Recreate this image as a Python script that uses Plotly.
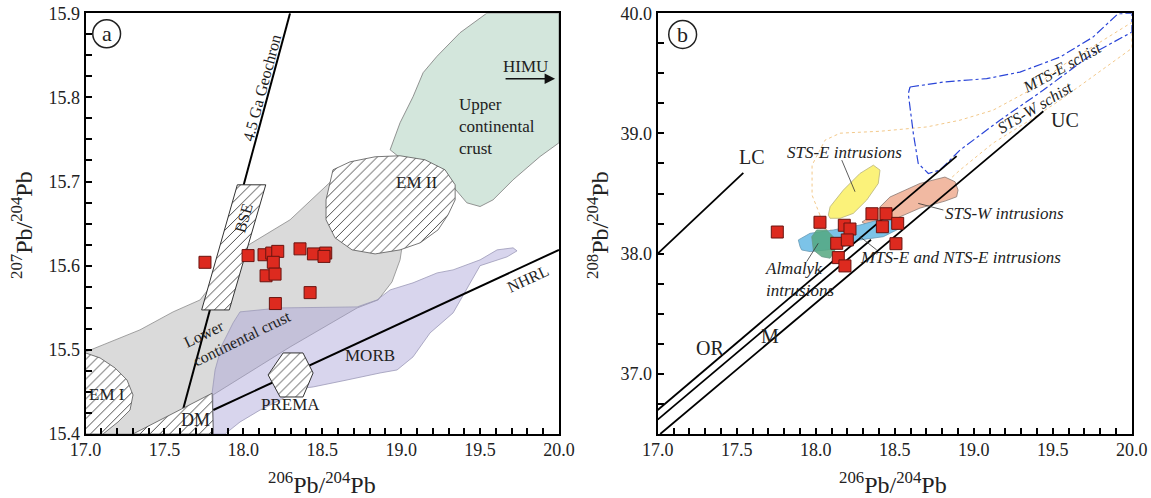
import plotly.graph_objects as go

SERIF = "Liberation Serif, Times New Roman, DejaVu Serif, serif"

# ---------------- Panel (a): 207Pb/204Pb vs 206Pb/204Pb ----------------
pb206_a = [17.757, 18.030, 18.131, 18.180, 18.218, 18.190, 18.144, 18.201,
           18.359, 18.444, 18.522, 18.511, 18.423, 18.203]
pb207_a = [15.604, 15.612, 15.613, 15.615, 15.617, 15.604, 15.588, 15.590,
           15.620, 15.614, 15.615, 15.611, 15.568, 15.555]

# ---------------- Panel (b): 208Pb/204Pb vs 206Pb/204Pb ----------------
pb206_b = [17.757, 18.027, 18.181, 18.217, 18.133, 18.200, 18.143, 18.185,
           18.356, 18.445, 18.422, 18.519, 18.508]
pb208_b = [38.180, 38.261, 38.236, 38.205, 38.086, 38.114, 37.967, 37.898,
           38.332, 38.332, 38.224, 38.252, 38.083]

# Reference reservoirs, panel (a)
lcc_x = [17.000, 17.345, 17.555, 17.726, 17.960, 18.296, 18.613, 18.803, 18.993, 19.012,
         18.993, 18.942, 18.854, 18.721, 18.296, 17.808, 17.808, 17.000]
lcc_y = [15.4975, 15.5237, 15.5451, 15.5593, 15.6164, 15.6545, 15.7103, 15.7258, 15.6782, 15.6307,
         15.6069, 15.5807, 15.5593, 15.5498, 15.5034, 15.4464, 15.400, 15.400]
ucc_x = [19.5425, 20.000, 20.000, 19.880, 19.709, 19.582, 19.500, 19.416, 19.329, 19.183,
         18.993, 18.930, 18.993, 19.075, 19.139, 19.226, 19.373]
ucc_y = [15.900, 15.900, 15.746, 15.7297, 15.702, 15.6782, 15.6703, 15.6747, 15.694, 15.7139,
         15.7282, 15.7377, 15.7698, 15.8007, 15.8293, 15.8486, 15.8768]
morb_x = [17.810, 17.802, 17.821, 17.865, 17.935, 17.979, 18.233, 18.721, 18.847, 18.930,
          19.075, 19.228, 19.329, 19.500, 19.608, 19.709, 19.734, 19.671, 19.500, 19.329,
          19.183, 19.075, 18.974, 18.866, 18.657, 18.505, 18.442, 18.359, 18.233, 18.106,
          17.979, 17.884]
morb_y = [15.400, 15.4487, 15.4761, 15.5058, 15.532, 15.5451, 15.5498, 15.551, 15.5593, 15.5712,
          15.5796, 15.5914, 15.595, 15.6069, 15.6188, 15.6212, 15.6176, 15.6105, 15.600, 15.5439,
          15.5201, 15.4916, 15.4761, 15.4725, 15.4642, 15.4583, 15.4559, 15.454, 15.4404, 15.4285,
          15.4143, 15.400]
em2_x = [18.568, 18.676, 18.835, 18.993, 19.151, 19.278, 19.342, 19.342, 19.297, 19.234,
         19.120, 18.993, 18.835, 18.689, 18.581, 18.524, 18.524, 18.549]
em2_y = [15.7139, 15.7234, 15.7294, 15.7306, 15.7258, 15.7139, 15.6961, 15.6782, 15.6604, 15.6426,
         15.6271, 15.6188, 15.614, 15.6188, 15.6331, 15.6545, 15.6782, 15.6985]
em1_x = [17.000, 17.092, 17.187, 17.263, 17.301, 17.282, 17.206, 17.111, 17.000]
em1_y = [15.4963, 15.4904, 15.4785, 15.4642, 15.4464, 15.4285, 15.4143, 15.400, 15.400]
dm_x = [17.301, 17.802, 17.810]
dm_y = [15.400, 15.4484, 15.400]
bse_x = [17.736, 17.911, 18.142, 17.962]
bse_y = [15.5474, 15.5474, 15.6961, 15.6961]
prema_x = [18.252, 18.378, 18.442, 18.378, 18.233, 18.157]
prema_y = [15.4963, 15.4963, 15.4725, 15.444, 15.444, 15.4702]
geochron_x = [17.620, 18.296]
geochron_y = [15.4306, 15.900]
nhrl_x = [17.810, 20.000]
nhrl_y = [15.4285, 15.6188]

# Reference fields and evolution curves, panel (b)
lc_x, lc_y = [17.000, 17.542], [38.000, 38.672]
or_x, or_y = [17.000, 18.892], [36.700, 38.811]
m_x, m_y = [17.000, 18.350], [36.620, 38.116]
uc_x, uc_y = [17.016, 19.441], [36.500, 39.184]
stse_x = [18.080, 18.091, 18.175, 18.280, 18.365, 18.407, 18.396, 18.323, 18.238, 18.154, 18.091]
stse_y = [38.321, 38.390, 38.529, 38.667, 38.736, 38.695, 38.584, 38.446, 38.335, 38.294, 38.294]
stsw_x = [18.293, 18.344, 18.470, 18.660, 18.818, 18.882, 18.901, 18.892, 18.818, 18.660,
          18.534, 18.439, 18.344]
stsw_y = [38.263, 38.307, 38.471, 38.584, 38.637, 38.598, 38.529, 38.473, 38.437, 38.379,
          38.307, 38.246, 38.222]
mtse_x = [17.901, 17.890, 17.964, 18.111, 18.280, 18.386, 18.470, 18.554, 18.534, 18.428,
          18.280, 18.175, 18.070, 17.964, 17.911]
mtse_y = [38.058, 38.114, 38.169, 38.197, 38.238, 38.280, 38.307, 38.266, 38.211, 38.141,
          38.114, 38.058, 38.031, 38.017, 38.031]
alm_x = [17.975, 18.006, 18.070, 18.111, 18.122, 18.091, 18.038, 17.985]
alm_y = [38.141, 38.197, 38.197, 38.141, 38.031, 37.962, 37.975, 38.031]
schE_x = [18.597, 18.806, 19.082, 19.293, 19.546, 19.755, 19.913, 20.000, 20.000, 19.755,
          19.439, 19.166, 18.913, 18.787, 18.713, 18.649, 18.618, 18.586]
schE_y = [39.386, 39.427, 39.456, 39.510, 39.635, 39.801, 39.995, 40.000, 39.842, 39.666,
          39.359, 39.110, 38.861, 38.695, 38.667, 38.750, 38.999, 39.331]
schW_x = [18.027, 17.977, 17.977, 18.059, 18.154, 18.407, 18.703, 18.913, 19.122, 19.356,
          19.546, 19.768, 20.000, 20.000, 19.768, 19.546, 19.356, 19.122, 18.913, 18.703,
          18.534, 18.344, 18.154, 18.027]
schW_y = [38.321, 38.487, 38.736, 38.944, 39.002, 39.018, 39.054, 39.110, 39.193, 39.359,
          39.552, 39.732, 39.923, 39.707, 39.483, 39.276, 39.110, 38.919, 38.695, 38.446,
          38.321, 38.213, 38.180, 38.213]

fig = go.Figure()


def field(x, y, xa, ya, fill=None, line_color=None, line_width=0.8, dash=None,
          hatch=False):
    xs = list(x) + [x[0]]
    ys = list(y) + [y[0]]
    kw = dict(x=xs, y=ys, mode="lines", xaxis=xa, yaxis=ya, hoverinfo="skip",
              showlegend=False,
              line=dict(color=line_color or "rgba(0,0,0,0)", width=line_width,
                        dash=dash))
    if fill or hatch:
        kw["fill"] = "toself"
        kw["fillcolor"] = fill or "white"
    if hatch:
        kw["fillpattern"] = dict(shape="/", bgcolor="white", fgcolor="#3c3c3c",
                                 size=7, solidity=0.13)
    fig.add_trace(go.Scatter(**kw))


def line(x, y, xa, ya, width=2.0, color="black"):
    fig.add_trace(go.Scatter(x=x, y=y, mode="lines", xaxis=xa, yaxis=ya,
                             hoverinfo="skip", showlegend=False,
                             line=dict(color=color, width=width)))


# ---- panel (a) fields ----
field(lcc_x, lcc_y, "x", "y", fill="#dadada", line_color="#8a8a8a")
field(ucc_x, ucc_y, "x", "y", fill="#d3e6dc", line_color="#7a7a7a")
field(morb_x, morb_y, "x", "y", fill="rgba(168,162,214,0.45)", line_color="#9c99b8")
line(geochron_x, geochron_y, "x", "y", width=2)
line(nhrl_x, nhrl_y, "x", "y", width=2)
field(em1_x, em1_y, "x", "y", hatch=True, line_color="#555", line_width=0.8)
field(dm_x, dm_y, "x", "y", hatch=True, line_color="#555", line_width=0.8)
field(em2_x, em2_y, "x", "y", hatch=True, line_color="#555", line_width=0.8)
field(bse_x, bse_y, "x", "y", hatch=True, line_color="#333", line_width=1)
field(prema_x, prema_y, "x", "y", hatch=True, line_color="#333", line_width=1)

# ---- panel (b) fields ----
field(schW_x, schW_y, "x2", "y2", line_color="#f2c88a", line_width=1, dash="dot")
field(schE_x, schE_y, "x2", "y2", line_color="#2a45d8", line_width=1.2, dash="dashdot")
field(stse_x, stse_y, "x2", "y2", fill="#fbf27a", line_color="#b8b27a")
field(stsw_x, stsw_y, "x2", "y2", fill="#f1b9a2", line_color="#8a7a74")
field(mtse_x, mtse_y, "x2", "y2", fill="#7cc3e8", line_color="#6a9ab5")
field(alm_x, alm_y, "x2", "y2", fill="rgba(84,168,128,0.85)", line_color="#6a9a88")
line(lc_x, lc_y, "x2", "y2", width=1.8)
line(or_x, or_y, "x2", "y2", width=1.8)
line(m_x, m_y, "x2", "y2", width=1.8)
line(uc_x, uc_y, "x2", "y2", width=1.8)

# leader lines for panel (b) labels
for lx, ly in [([18.165, 18.249], [38.778, 38.515]),
               ([18.649, 18.808], [38.418, 38.363]),
               ([18.280, 18.386], [38.141, 38.031]),
               ([17.943, 18.016], [37.934, 38.086])]:
    line(lx, ly, "x2", "y2", width=0.8, color="#333")

# ---- samples ----
marker = dict(symbol="square", size=12, color="#dd2a1f",
              line=dict(color="#6a1410", width=1))
fig.add_trace(go.Scatter(x=pb206_a, y=pb207_a, mode="markers", xaxis="x", yaxis="y",
                         marker=marker, showlegend=False))
fig.add_trace(go.Scatter(x=pb206_b, y=pb208_b, mode="markers", xaxis="x2", yaxis="y2",
                         marker=marker, showlegend=False))


# ---- labels ----
def lab(text, x, y, xa="x", ya="y", size=17, angle=0, italic=False, align="center",
        xanchor="center"):
    t = f"<i>{text}</i>" if italic else text
    return dict(text=t, x=x, y=y, xref=xa, yref=ya, showarrow=False,
                textangle=angle, align=align, xanchor=xanchor, yanchor="middle",
                font=dict(family=SERIF, size=size, color="#222"))


def axis_title(text, px, py, angle=0):
    return dict(text=text, x=px / 1151, y=1 - py / 498, xref="paper", yref="paper",
                showarrow=False, textangle=angle, xanchor="center", yanchor="middle",
                font=dict(family=SERIF, size=24, color="#222"))


ann = [
    lab("4.5 Ga Geochron", 18.119, 15.8114, size=16, angle=-75),
    lab("BSE", 18.004, 15.6568, size=16, angle=-74),
    lab("EM II", 19.099, 15.6985),
    lab("Upper<br>continental<br>crust", 19.354, 15.765, align="left", xanchor="left"),
    lab("HIMU", 19.785, 15.8364),
    lab("EM I", 17.136, 15.4464),
    lab("DM", 17.700, 15.4167, size=18),
    lab("Lower<br>continental crust", 17.965, 15.5249, size=16, angle=-26, align="left"),
    lab("MORB", 18.803, 15.4928),
    lab("PREMA", 18.296, 15.4345),
    lab("NHRL", 19.806, 15.5851, size=16, angle=-25),
    lab("a", 17.134, 15.8756, size=22),
    lab("LC", 17.597, 38.802, "x2", "y2", size=20),
    lab("OR", 17.331, 37.215, "x2", "y2", size=20),
    lab("M", 17.711, 37.311, "x2", "y2", size=20),
    lab("UC", 19.578, 39.115, "x2", "y2", size=20),
    lab("STS-E intrusions", 18.185, 38.844, "x2", "y2", italic=True),
    lab("STS-W intrusions", 19.198, 38.335, "x2", "y2", italic=True),
    lab("MTS-E and NTS-E intrusions", 18.916, 37.964, "x2", "y2", italic=True),
    lab("Almalyk<br>intrusions", 17.666, 37.786, "x2", "y2", italic=True,
        align="left", xanchor="left"),
    lab("MTS-E schist", 19.557, 39.552, "x2", "y2", size=16, italic=True, angle=-29),
    lab("STS-W schist", 19.388, 39.213, "x2", "y2", size=16, italic=True, angle=-31),
    lab("b", 17.158, 39.823, "x2", "y2", size=22),
    # HIMU arrow
    dict(x=19.975, y=15.8221, ax=19.652, ay=15.8221, xref="x", yref="y",
         axref="x", ayref="y", showarrow=True, arrowhead=2, arrowsize=1.3,
         arrowwidth=1.6, arrowcolor="#111", text=""),
    axis_title("<sup>207</sup>Pb/<sup>204</sup>Pb", 22, 225, -90),
    axis_title("<sup>206</sup>Pb/<sup>204</sup>Pb", 322, 483),
    axis_title("<sup>208</sup>Pb/<sup>204</sup>Pb", 598, 225, -90),
    axis_title("<sup>206</sup>Pb/<sup>204</sup>Pb", 893, 483),
]

shapes = [
    dict(type="circle", xref="x", yref="y", x0=17.134 - 0.088, x1=17.134 + 0.088,
         y0=15.8756 - 0.0166, y1=15.8756 + 0.0166, line=dict(color="#222", width=1.5)),
    dict(type="circle", xref="x2", yref="y2", x0=17.158 - 0.088, x1=17.158 + 0.088,
         y0=39.823 - 0.116, y1=39.823 + 0.116, line=dict(color="#222", width=1.5)),
]

tickfont = dict(family=SERIF, size=18, color="#222")


def axis(domain, rng, dtick, minor, anchor, tick0, standoff):
    return dict(domain=domain, range=rng, dtick=dtick, tick0=tick0, anchor=anchor,
                tickformat=".1f", ticks="inside", ticklen=6, tickwidth=1.5,
                tickcolor="black", showline=True, linewidth=2, linecolor="black",
                mirror=True, showgrid=False, zeroline=False, tickfont=tickfont,
                automargin=False, ticklabelstandoff=standoff,
                minor=dict(dtick=minor, tick0=tick0, ticks="inside", ticklen=6,
                           tickwidth=1.5, tickcolor="black", showgrid=False))


ydom = [1 - 434 / 498, 1 - 13.2 / 498]
fig.update_layout(
    template="none",
    width=1151, height=498,
    margin=dict(l=0, r=0, t=0, b=0),
    paper_bgcolor="white", plot_bgcolor="white",
    xaxis=axis([85.5 / 1151, 559 / 1151], [17.0, 20.0], 0.5, 0.1, "y", 17.0, -2),
    yaxis=axis(ydom, [15.4, 15.9], 0.1, 0.025, "x", 15.4, 0),
    xaxis2=axis([657.7 / 1151, 1131.7 / 1151], [17.0, 20.0], 0.5, 0.1, "y2", 17.0, -2),
    yaxis2=axis(ydom, [36.5, 40.0], 1.0, 0.25, "x2", 37.0, 0),
    annotations=ann,
    shapes=shapes,
)

fig.write_html("out.html")
